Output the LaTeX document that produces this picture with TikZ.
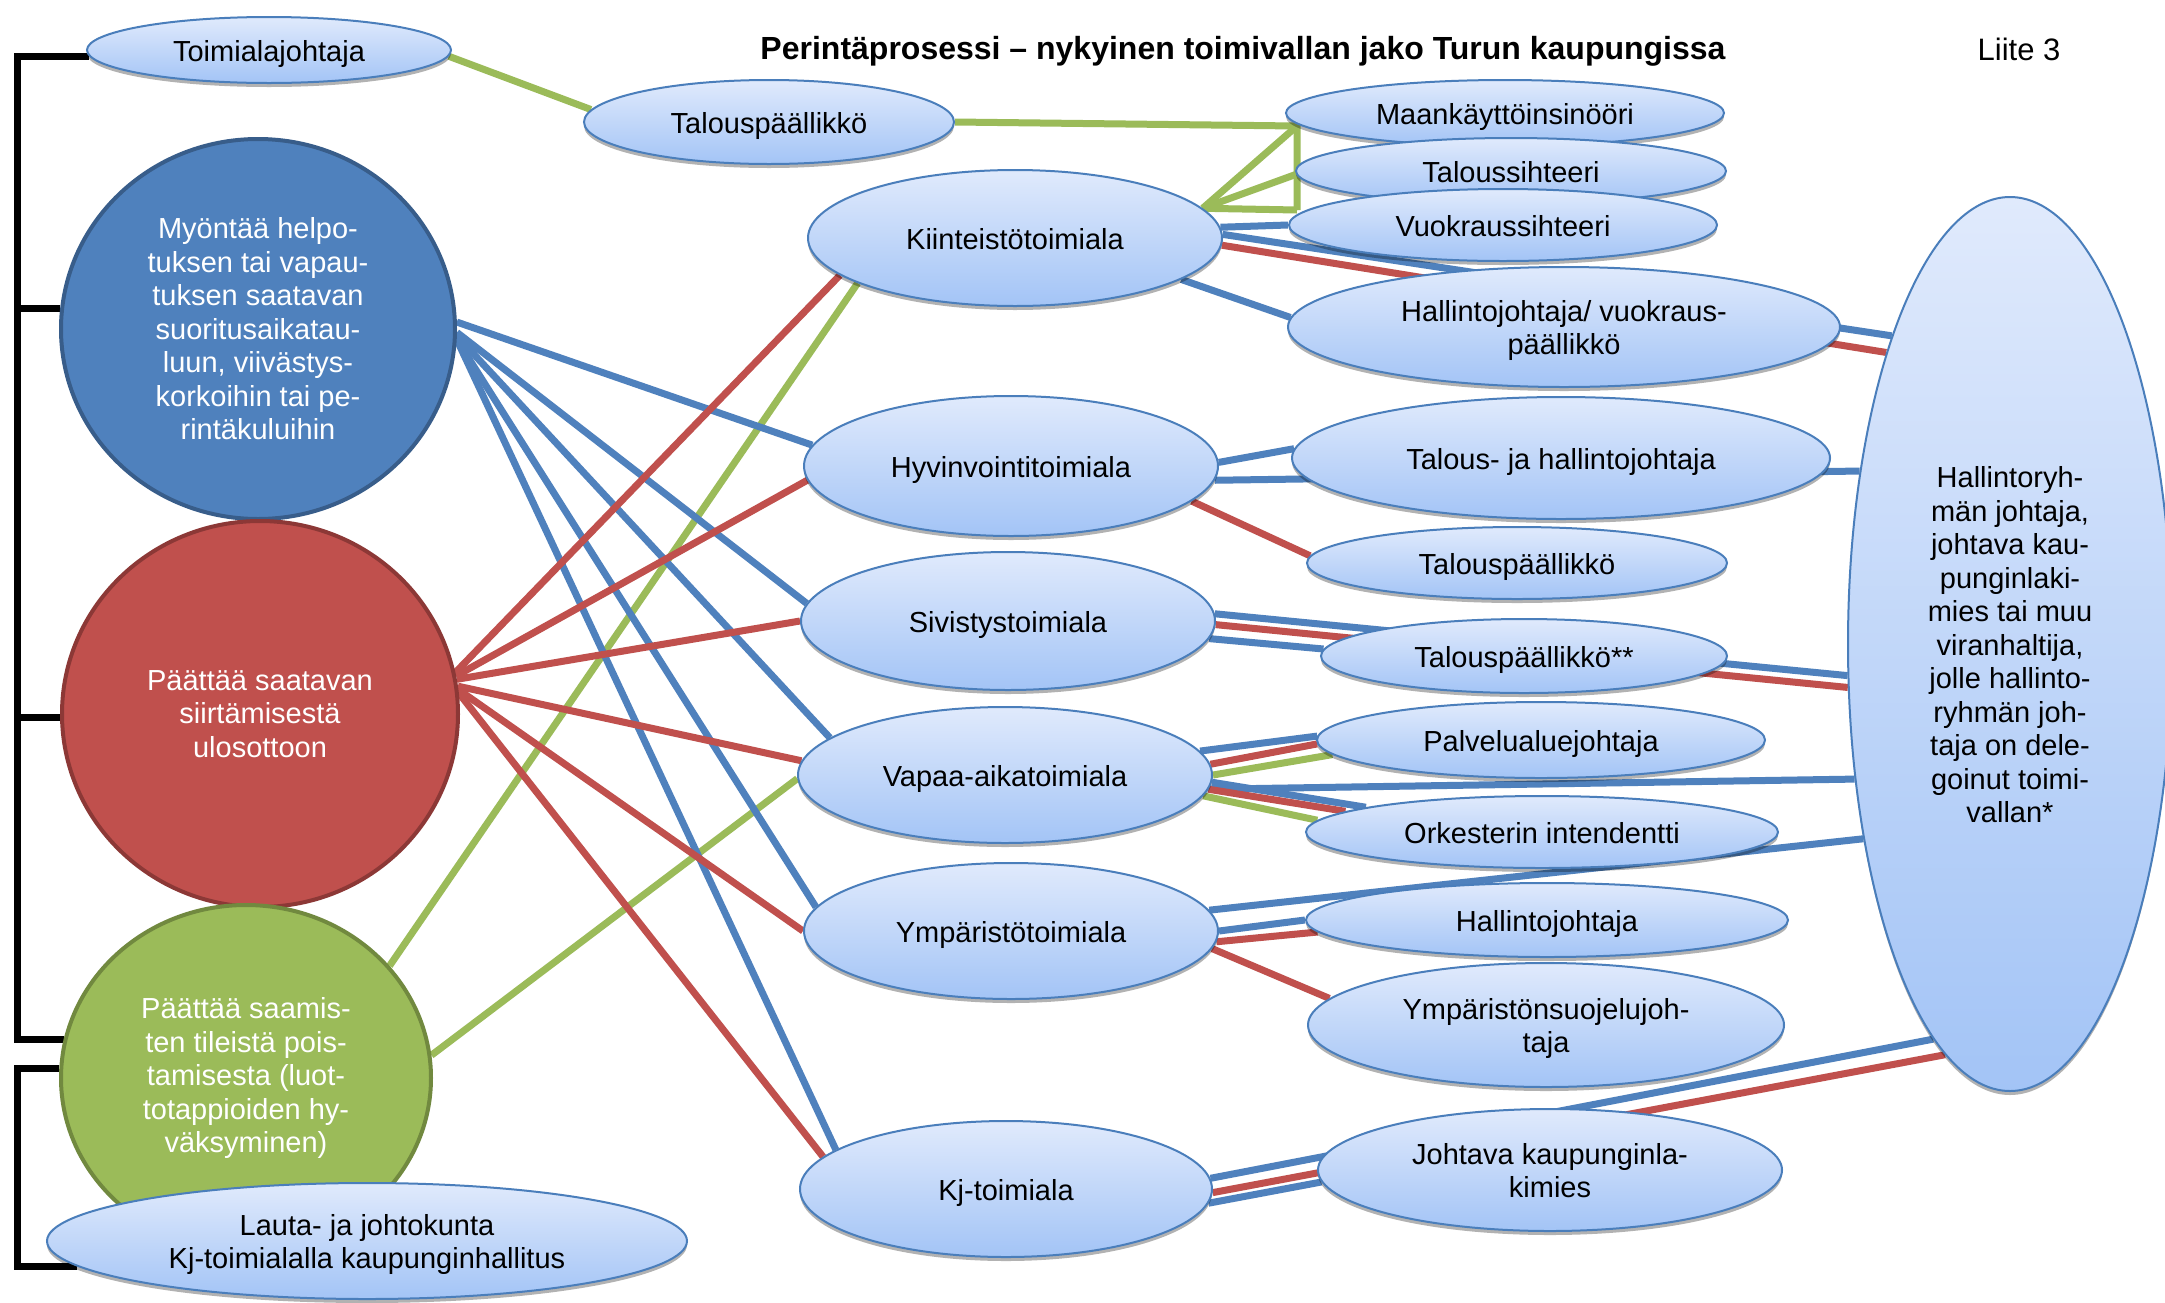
\documentclass[tikz,border=0pt]{standalone}
\usepackage{fontspec}
\setmainfont{Liberation Sans}
\usetikzlibrary{shapes.geometric,shadows,backgrounds}
\definecolor{cblue}{HTML}{4F81BD}
\definecolor{cred}{HTML}{C0504D}
\definecolor{cgreen}{HTML}{9BBB59}
\definecolor{bblue}{HTML}{385D8A}
\definecolor{bred}{HTML}{8C3836}
\definecolor{bgreen}{HTML}{71893F}
\definecolor{ltop}{RGB}{224,234,252}
\definecolor{lbot}{RGB}{163,196,246}
\definecolor{lborder}{HTML}{4A7EBB}
\newcommand\mytopst{\rule[-7pt]{0pt}{36pt}}
\newcommand\mybotst{\rule[-7pt]{0pt}{0pt}}
\begin{document}
\begin{tikzpicture}[x=1pt,y=-1pt,
  every node/.style={font=\fontsize{29}{33.5}\selectfont, align=center, inner sep=0pt},
  sz/.style 2 args={minimum width=2*#1, minimum height=2*#2},
  lnode/.style={ellipse, draw=lborder, line width=2pt, top color=ltop, bottom color=lbot,
     drop shadow={shadow xshift=0pt, shadow yshift=-4pt, opacity=0.3, fill=black}},
  bnode/.style={ellipse, draw=bblue, line width=4pt, fill=cblue, text=white},
  rnode/.style={ellipse, draw=bred, line width=4pt, fill=cred, text=white},
  gnode/.style={ellipse, draw=bgreen, line width=4pt, fill=cgreen, text=white},
  bluecon/.style={draw=cblue, line width=7pt},
  redcon/.style={draw=cred, line width=7pt},
  greencon/.style={draw=cgreen, line width=7pt},
  bracket/.style={draw=black, line width=7pt},
]
\useasboundingbox (0,0) rectangle (2165,1302);

% titles
\node[font=\fontsize{32}{36}\selectfont\bfseries] (title) at (1243,51) {Perintäprosessi – nykyinen toimivallan jako Turun kaupungissa};
\node[font=\fontsize{31}{36}\selectfont] (liite) at (2019,49) {Liite 3};

% left column
\node[lnode, sz={182}{33}] (toim) at (269,50) {\mytopst Toimialajohtaja\mybotst};
\node[lnode, sz={185}{42}] (tp1) at (769,122) {\mytopst Talouspäällikkö\mybotst};
\node[bnode, sz={197}{190}] (myo) at (258,329) {Myöntää helpo-\\tuksen tai vapau-\\tuksen saatavan\\suoritusaikatau-\\luun, viivästys-\\korkoihin tai pe-\\rintäkuluihin};
\node[rnode, sz={198}{193}] (paa) at (260,714) {Päättää saatavan\\siirtämisestä\\ulosottoon};
\node[gnode, sz={185}{173}] (saa) at (246,1078) {Päättää saamis-\\ten tileistä pois-\\tamisesta (luot-\\totappioiden hy-\\väksyminen)};
\node[lnode, sz={320}{58}] (lauta) at (367,1241) {\mytopst Lauta- ja johtokunta\\Kj-toimialalla kaupunginhallitus\mybotst};

% middle column
\node[lnode, sz={207}{68}] (kiin) at (1015,238) {\mytopst Kiinteistötoimiala\mybotst};
\node[lnode, sz={207}{70}] (hyv) at (1011,466) {\mytopst Hyvinvointitoimiala\mybotst};
\node[lnode, sz={207}{69}] (siv) at (1008,621) {\mytopst Sivistystoimiala\mybotst};
\node[lnode, sz={207}{68}] (vap) at (1005,775) {\mytopst Vapaa-aikatoimiala\mybotst};
\node[lnode, sz={207}{68}] (ymp) at (1011,931) {\mytopst Ympäristötoimiala\mybotst};
\node[lnode, sz={206}{68}] (kj) at (1006,1189) {\mytopst Kj-toimiala\mybotst};

% right column
\node[lnode, sz={219}{33}] (maa) at (1505,113) {\mytopst Maankäyttöinsinööri\mybotst};
\node[lnode, sz={215}{33}] (tsih) at (1511,171) {\mytopst Taloussihteeri\mybotst};
\node[lnode, sz={214}{36}] (vsih) at (1503,225) {\mytopst Vuokraussihteeri\mybotst};
\node[lnode, sz={276}{60}] (hjv) at (1564,327) {\mytopst Hallintojohtaja/ vuokraus-\\päällikkö\mybotst};
\node[lnode, sz={269}{61}] (thj) at (1561,458) {\mytopst Talous- ja hallintojohtaja\mybotst};
\node[lnode, sz={210}{36}] (tp2) at (1517,563) {\mytopst Talouspäällikkö\mybotst};
\node[lnode, sz={203}{37}] (tp3) at (1524,656) {\mytopst Talouspäällikkö**\mybotst};
\node[lnode, sz={224}{38}] (pal) at (1541,740) {\mytopst Palvelualuejohtaja\mybotst};
\node[lnode, sz={236}{36}] (ork) at (1542,832) {\mytopst Orkesterin intendentti\mybotst};
\node[lnode, sz={241}{37}] (hal) at (1547,920) {\mytopst Hallintojohtaja\mybotst};
\node[lnode, sz={238}{62}] (ysj) at (1546,1025) {\mytopst Ympäristönsuojelujoh-\\taja\mybotst};
\node[lnode, sz={232}{61}] (jkl) at (1550,1170) {\mytopst Johtava kaupunginla-\\kimies\mybotst};
\node[lnode, sz={162}{447}] (hr) at (2010,644) {\mytopst Hallintoryh-\\män johtaja,\\johtava kau-\\punginlaki-\\mies tai muu\\viranhaltija,\\jolle hallinto-\\ryhmän joh-\\taja on dele-\\goinut toimi-\\vallan*\mybotst};

% junction coordinates
\coordinate (gA) at (1297,126);
\coordinate (gB) at (1297,174);
\coordinate (gC) at (1297,210);
\coordinate (bx1) at (17,500);
\coordinate (bx2) at (17,1150);

\begin{pgfonlayer}{background}
\fill[white] (0,0) rectangle (2165,1302);
% brackets
\draw[bracket] (toim.182) -| (bx1) |- (saa.168);
\draw[bracket] (myo.174) -- (myo.174 -| bx1);
\draw[bracket] (paa.181) -- (paa.181 -| bx1);
\draw[bracket] (saa.177) -| (bx2) |- (lauta.185);

% green
\draw[greencon] (toim.358) -- (tp1.176);
\draw[greencon] (tp1.0) -- (gA) -- (gC);
\draw[greencon] (kiin.9) -- (gA);
\draw[greencon] (kiin.9) -- (gB);
\draw[greencon] (kiin.9) -- (gC);
\draw[greencon] (saa.38) -- (kiin.196);
\draw[greencon] (saa.7) -- (vap.181);
\draw[greencon] (vap.0.5) -- (pal.184.7);
\draw[greencon] (vap.354) -- (ork.177);

% blue
\draw[bluecon] (kiin.3) -- (vsih.180);
\draw[bluecon] (kiin.1) -- (hr.111.6);
\draw[bluecon] (kiin.346) -- (hjv.178);
\draw[bluecon] (myo.2) -- (hyv.174);
\draw[bluecon] (myo.359) -- (siv.175);
\draw[bluecon] (myo.358.5) -- (vap.168);
\draw[bluecon] (myo.357.5) -- (ymp.173.5);
\draw[bluecon] (myo.357) -- (kj.167);
\draw[bluecon] (hyv.1) -- (thj.178);
\draw[bluecon] (hyv.356) -- (hr.131.8);
\draw[bluecon] (siv.2) -- (hr.191.9);
\draw[bluecon] (siv.355.6) -- (tp3.178.6);
\draw[bluecon] (vap.7) -- (pal.179.5);
\draw[bluecon] (vap.356) -- (hr.221.9);
\draw[bluecon] (vap.358.6) -- (ork.172.7);
\draw[bluecon] (ymp.6) -- (hr.233.6);
\draw[bluecon] (ymp.0) -- (hal.180.7);
\draw[bluecon] (kj.3.3) -- (hr.259.6);
\draw[bluecon] (kj.356.4) -- (jkl.183.3);

% red
\draw[redcon] (kiin.358.4) -- (hr.113.2);
\draw[redcon] (paa.12) -- (kiin.192);
\draw[redcon] (paa.11) -- (hyv.184.6);
\draw[redcon] (paa.10) -- (siv.180.5);
\draw[redcon] (paa.8.5) -- (vap.176);
\draw[redcon] (paa.7) -- (ymp.180.3);
\draw[redcon] (paa.6) -- (kj.170.6);
\draw[redcon] (hyv.349.5) -- (tp2.178);
\draw[redcon] (siv.359.5) -- (hr.195.9);
\draw[redcon] (vap.3.3) -- (pal.181.3);
\draw[redcon] (vap.356.4) -- (ork.174.3);
\draw[redcon] (ymp.357) -- (hal.183);
\draw[redcon] (ymp.355.3) -- (ysj.173);
\draw[redcon] (kj.359.4) -- (hr.261.1);
\end{pgfonlayer}
\end{tikzpicture}
\end{document}
